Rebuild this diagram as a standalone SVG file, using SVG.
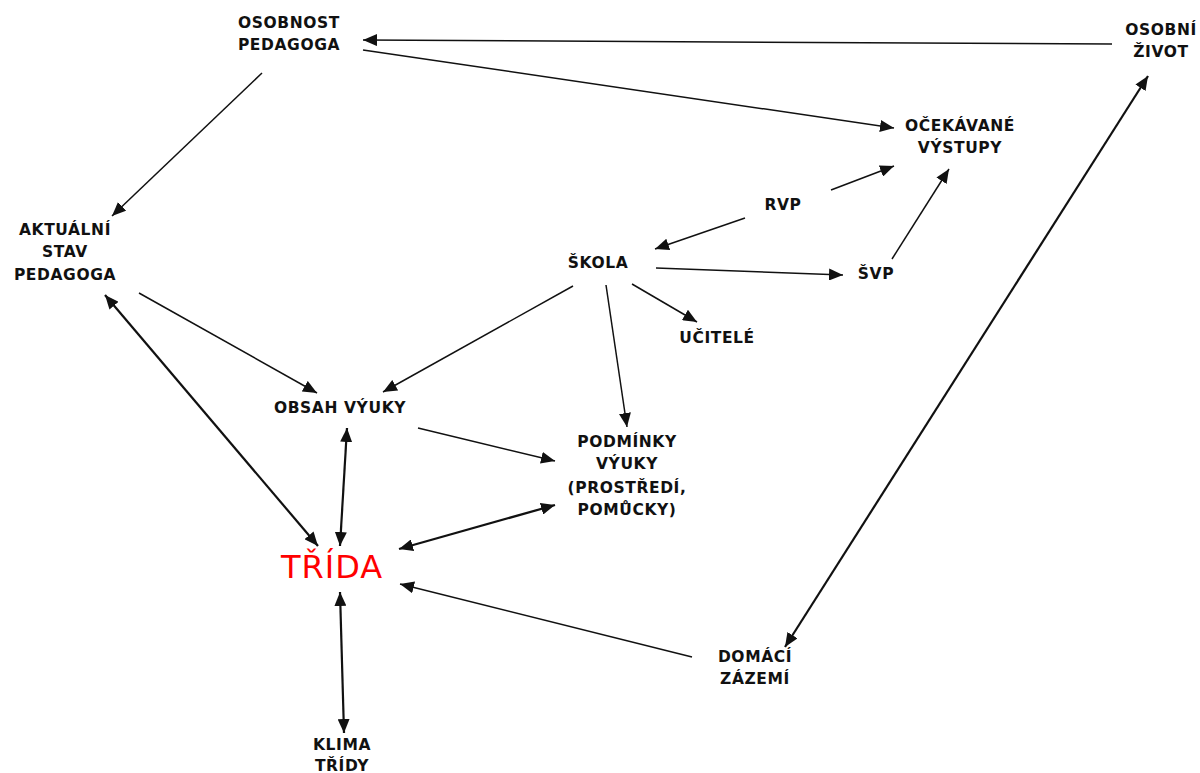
<svg xmlns="http://www.w3.org/2000/svg" width="1200" height="773" viewBox="0 0 1200 773">
<style>
.t{font-family:"DejaVu Sans",Verdana,sans-serif;font-weight:bold;font-size:15.5px;fill:#111;text-anchor:middle;letter-spacing:0.6px}
.r{font-family:"DejaVu Sans",Verdana,sans-serif;font-size:32px;fill:#ff0000;text-anchor:middle;letter-spacing:1px}
.c{stroke:#111;stroke-width:1.5;fill:none;marker-end:url(#a)}
.b{stroke:#111;stroke-width:2.2;fill:none;marker-end:url(#a);marker-start:url(#s)}
</style>
<defs>
<marker id="a" markerUnits="userSpaceOnUse" viewBox="0 0 14 12" refX="14" refY="6" markerWidth="14" markerHeight="12" orient="auto"><path d="M0,0 L14,6 L0,12 Z" fill="#111"/></marker>
<marker id="s" markerUnits="userSpaceOnUse" viewBox="0 0 14 12" refX="0" refY="6" markerWidth="14" markerHeight="12" orient="auto"><path d="M14,0 L0,6 L14,12 Z" fill="#111"/></marker>
</defs>
<rect width="1200" height="773" fill="#fff"/>
<g id="connectors">
<line class="c" x1="1112" y1="44" x2="363" y2="40"/>
<line class="c" x1="363" y1="50" x2="894" y2="128"/>
<line class="c" x1="262" y1="73" x2="112" y2="216"/>
<line class="c" x1="831" y1="190" x2="894" y2="166"/>
<line class="c" x1="892" y1="259" x2="949" y2="169"/>
<line class="c" x1="745" y1="218" x2="655" y2="249"/>
<line class="c" x1="656" y1="268" x2="843" y2="275"/>
<line class="c" x1="632" y1="284" x2="697" y2="322"/>
<line class="c" x1="573" y1="286" x2="383" y2="392"/>
<line class="c" x1="606" y1="285" x2="627" y2="427"/>
<line class="c" x1="139" y1="293" x2="317" y2="393"/>
<line class="c" x1="418" y1="428" x2="555" y2="461"/>
<line class="c" x1="692" y1="657" x2="400" y2="584"/>
<line class="b" x1="105" y1="295" x2="318" y2="546"/>
<line class="b" x1="347" y1="428" x2="340" y2="546"/>
<line class="b" x1="555" y1="505" x2="399" y2="549"/>
<line class="b" x1="1148" y1="76" x2="785" y2="647"/>
<line class="b" x1="340" y1="592" x2="344" y2="733"/>
</g>
<g id="osobnost-pedagoga"><text class="t" x="289" y="28">OSOBNOST</text><text class="t" x="289" y="50">PEDAGOGA</text></g>
<g id="osobni-zivot"><text class="t" x="1161" y="35">OSOBNÍ</text><text class="t" x="1161" y="57">ŽIVOT</text></g>
<g id="aktualni-stav"><text class="t" x="65" y="235">AKTUÁLNÍ</text><text class="t" x="65" y="257">STAV</text><text class="t" x="65" y="280">PEDAGOGA</text></g>
<g id="ocekavane-vystupy"><text class="t" x="960" y="131">OČEKÁVANÉ</text><text class="t" x="960" y="153">VÝSTUPY</text></g>
<g id="rvp"><text class="t" x="783" y="210">RVP</text></g>
<g id="skola"><text class="t" x="598" y="268">ŠKOLA</text></g>
<g id="svp"><text class="t" x="876" y="279">ŠVP</text></g>
<g id="ucitele"><text class="t" x="717" y="343">UČITELÉ</text></g>
<g id="obsah-vyuky"><text class="t" x="340" y="413">OBSAH VÝUKY</text></g>
<g id="podminky-vyuky"><text class="t" x="627" y="447">PODMÍNKY</text><text class="t" x="627" y="469">VÝUKY</text><text class="t" x="627" y="493">(PROSTŘEDÍ,</text><text class="t" x="627" y="515">POMŮCKY)</text></g>
<g id="trida"><text class="r" x="332" y="578">TŘÍDA</text></g>
<g id="domaci-zazemi"><text class="t" x="755" y="662">DOMÁCÍ</text><text class="t" x="755" y="684">ZÁZEMÍ</text></g>
<g id="klima-tridy"><text class="t" x="342" y="750">KLIMA</text><text class="t" x="342" y="771">TŘÍDY</text></g>
</svg>
